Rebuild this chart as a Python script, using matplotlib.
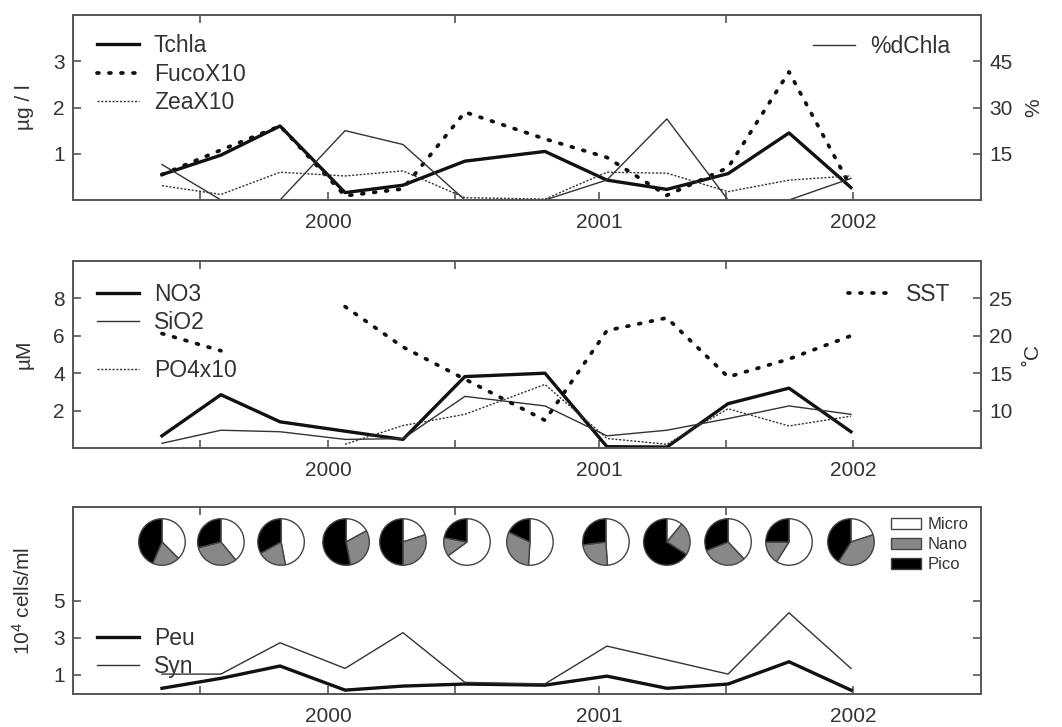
import matplotlib
matplotlib.use("Agg")
import matplotlib.pyplot as plt
import numpy as np
from matplotlib.patches import Patch

plt.rcParams['font.family'] = ['Liberation Sans', 'DejaVu Sans']
plt.rcParams['mathtext.fontset'] = 'custom'
plt.rcParams['mathtext.rm'] = 'Liberation Sans'

# ---------------- data ----------------
dates = [1999.349, 1999.580, 1999.812, 2000.067, 2000.294, 2000.537,
         2000.851, 2001.094, 2001.329, 2001.569, 2001.808, 2002.051]
pie_dates = [1999.349, 1999.580, 1999.816, 2000.071, 2000.294, 2000.545,
             2000.792, 2001.090, 2001.329, 2001.569, 2001.808, 2002.051]
year_ticks = [2000.0, 2001.063, 2002.059]
year_labels = ['2000', '2001', '2002']
half_ticks = [1999.498, 2000.498, 2001.561]

tchla = [0.55, 0.97, 1.60, 0.16, 0.32, 0.84, 1.05, 0.43, 0.23, 0.57, 1.45, 0.27]
fuco10 = [0.55, 1.08, 1.60, 0.09, 0.24, 1.90, 1.32, 0.92, 0.10, 0.70, 2.77, 0.28]
zea10 = [0.31, 0.12, 0.60, 0.52, 0.63, 0.05, 0.02, 0.60, 0.58, 0.18, 0.43, 0.52]
dchla = [11.5, 0.0, 0.0, 22.5, 18.0, 0.0, 0.0, 6.5, 26.3, 0.0, 0.0, 7.0]

no3 = [0.65, 2.85, 1.40, 0.90, 0.46, 3.82, 4.00, 0.07, 0.05, 2.37, 3.20, 0.87]
sio2 = [0.25, 0.95, 0.87, 0.46, 0.50, 2.76, 2.25, 0.65, 0.95, 1.57, 2.25, 1.80]
po4x10 = [np.nan, np.nan, np.nan, 0.20, 1.20, 1.80, 3.40, 0.51, 0.20, 2.10, 1.18, 1.70]
sst = [20.3, 18.0, np.nan, 23.9, 18.5, 14.2, 8.7, 20.7, 22.4, 14.5, 16.9, 20.0]

peu = [0.26, 0.80, 1.47, 0.16, 0.38, 0.49, 0.43, 0.92, 0.26, 0.49, 1.70, 0.16]
syn = [1.03, 1.03, 2.73, 1.34, 3.28, 0.58, 0.50, 2.55, 1.80, 1.03, 4.36, 1.34]

micro = [0.375, 0.39, 0.47, 0.17, 0.20, 0.65, 0.51, 0.49, 0.11, 0.38, 0.59, 0.20]
nano = [0.19, 0.32, 0.20, 0.30, 0.30, 0.13, 0.31, 0.24, 0.23, 0.31, 0.16, 0.39]
pico = [0.435, 0.29, 0.33, 0.53, 0.50, 0.22, 0.18, 0.27, 0.66, 0.31, 0.25, 0.41]

# ---------------- style ----------------
W, H = 1062, 727
fig = plt.figure(figsize=(W / 100, H / 100), dpi=100)
spine_c = '#555555'
txt_c = '#333333'
line_c = '#111111'
thin_c = '#333333'
TICK_FS = 15
LEG_FS = 16.5
LAB_FS = 15
dot_ls = (0, (0.5, 2.7))
fine_ls = (0, (1.5, 1.2))


def px_axes(left, top, right, bottom):
    return fig.add_axes([left / W, 1 - bottom / H, (right - left) / W, (bottom - top) / H])


def style_axes(ax, twin):
    for a in (ax, twin):
        for sp in a.spines.values():
            sp.set_color(spine_c)
            sp.set_linewidth(1.2)
    ax.set_xlim(1999.0, 2002.561)
    ax.set_xticks(year_ticks)
    ax.set_xticklabels(year_labels)
    ax.set_xticks(half_ticks, minor=True)
    ax.tick_params(axis='x', which='both', direction='in', length=6, width=1.2,
                   color=spine_c, labelsize=TICK_FS, labelcolor=txt_c, pad=9)
    ax.tick_params(axis='x', which='minor', top=True)
    ax.tick_params(axis='y', direction='in', length=6, width=1.2, color=spine_c,
                   labelsize=TICK_FS, labelcolor=txt_c, pad=6)
    twin.tick_params(axis='y', direction='in', length=6, width=1.2, color=spine_c,
                     labelsize=TICK_FS, labelcolor=txt_c, pad=6)


def leg_kw(**extra):
    kw = dict(frameon=False, fontsize=LEG_FS, handlelength=1.85, handletextpad=0.65,
              borderaxespad=0, borderpad=0, labelcolor=txt_c)
    kw.update(extra)
    return kw


# ---------------- panel 1 ----------------
ax1 = px_axes(73, 15, 981, 200)
ax1r = ax1.twinx()
ax1.plot(dates, tchla, color=line_c, lw=2.4, label='Tchla')
ax1.plot(dates, fuco10, color=line_c, lw=2.7, ls=dot_ls, dash_capstyle='round', label='FucoX10')
ax1.plot(dates, zea10, color=thin_c, lw=1.0, ls=fine_ls, label='ZeaX10')
ax1r.plot(dates, dchla, color=thin_c, lw=1.0, label='%dChla')
ax1.set_ylim(0, 4)
ax1r.set_ylim(0, 60)
ax1.set_yticks([1, 2, 3])
ax1r.set_yticks([15, 30, 45])
style_axes(ax1, ax1r)
ax1.set_ylabel('µg / l', fontsize=LAB_FS, color=txt_c, labelpad=14)
ax1r.set_ylabel('%', fontsize=LAB_FS, color=txt_c, labelpad=8)
ax1.legend(loc='upper left', bbox_to_anchor=(0.026, 0.897), **leg_kw(labelspacing=0.24))
ax1r.legend(loc='upper right', bbox_to_anchor=(0.966, 0.892), **leg_kw())

# ---------------- panel 2 ----------------
ax2 = px_axes(73, 261, 981, 448)
ax2r = ax2.twinx()
l_no3, = ax2.plot(dates, no3, color=line_c, lw=2.4, label='NO3')
l_sio, = ax2.plot(dates, sio2, color=thin_c, lw=1.0, label='SiO2')
l_po4, = ax2.plot(dates, po4x10, color=thin_c, lw=1.0, ls=fine_ls, label='PO4x10')
ax2r.plot(dates, sst, color=line_c, lw=2.7, ls=dot_ls, dash_capstyle='round', label='SST')
ax2.set_ylim(0, 10)
ax2r.set_ylim(5, 30)
ax2.set_yticks([2, 4, 6, 8])
ax2r.set_yticks([10, 15, 20, 25])
style_axes(ax2, ax2r)
ax2.set_ylabel('µM', fontsize=LAB_FS, color=txt_c, labelpad=14)
ax2r.set_ylabel('˚C', fontsize=LAB_FS, color=txt_c, labelpad=8)
lg2a = ax2.legend(handles=[l_no3, l_sio], loc='upper left', bbox_to_anchor=(0.026, 0.884),
                  **leg_kw(labelspacing=0.23))
ax2.add_artist(lg2a)
ax2.legend(handles=[l_po4], loc='upper left', bbox_to_anchor=(0.026, 0.478), **leg_kw())
ax2r.legend(loc='upper right', bbox_to_anchor=(0.966, 0.884), **leg_kw())

# ---------------- panel 3 ----------------
ax3 = px_axes(73, 507, 981, 694)
ax3r = ax3.twinx()
l_peu, = ax3.plot(dates, peu, color=line_c, lw=2.4, label='Peu')
l_syn, = ax3.plot(dates, syn, color=thin_c, lw=1.0, label='Syn')
ax3.set_ylim(-0.05, 10.1)
ax3r.set_ylim(-0.05, 10.1)
ax3.set_yticks([1, 3, 5])
ax3r.set_yticks([1, 3, 5])
style_axes(ax3, ax3r)
ax3r.set_yticklabels([])
ax3.set_ylabel(r'$\mathregular{10^4}$ cells/ml', fontsize=LAB_FS, color=txt_c, labelpad=14)
lg3 = ax3.legend(handles=[l_peu, l_syn], loc='upper left', bbox_to_anchor=(0.026, 0.358),
                 **leg_kw(labelspacing=0.2))
ax3.add_artist(lg3)
pie_cols = ['white', '#888888', 'black']
pie_y = 8.2
for d, mi, na, pi in zip(pie_dates, micro, nano, pico):
    pax = ax3.inset_axes([d - 0.095, pie_y - 1.3, 0.19, 2.6], transform=ax3.transData)
    pax.pie([mi, na, pi], colors=pie_cols, startangle=90, counterclock=False,
            wedgeprops=dict(edgecolor='#444444', linewidth=1.0))
    pax.set_xlim(-1.03, 1.03)
    pax.set_ylim(-1.03, 1.03)
    pax.set_aspect('equal')
    pax.axis('off')
pie_handles = [Patch(facecolor=c, edgecolor='#444444', linewidth=1.0) for c in pie_cols]
ax3.legend(pie_handles, ['Micro', 'Nano', 'Pico'], loc='upper right',
           bbox_to_anchor=(0.986, 0.945), frameon=False, fontsize=12,
           handlelength=1.75, handleheight=0.6, handletextpad=0.4, labelspacing=0.3,
           borderaxespad=0, borderpad=0, labelcolor=txt_c)

fig.savefig('out.png', dpi=100)
